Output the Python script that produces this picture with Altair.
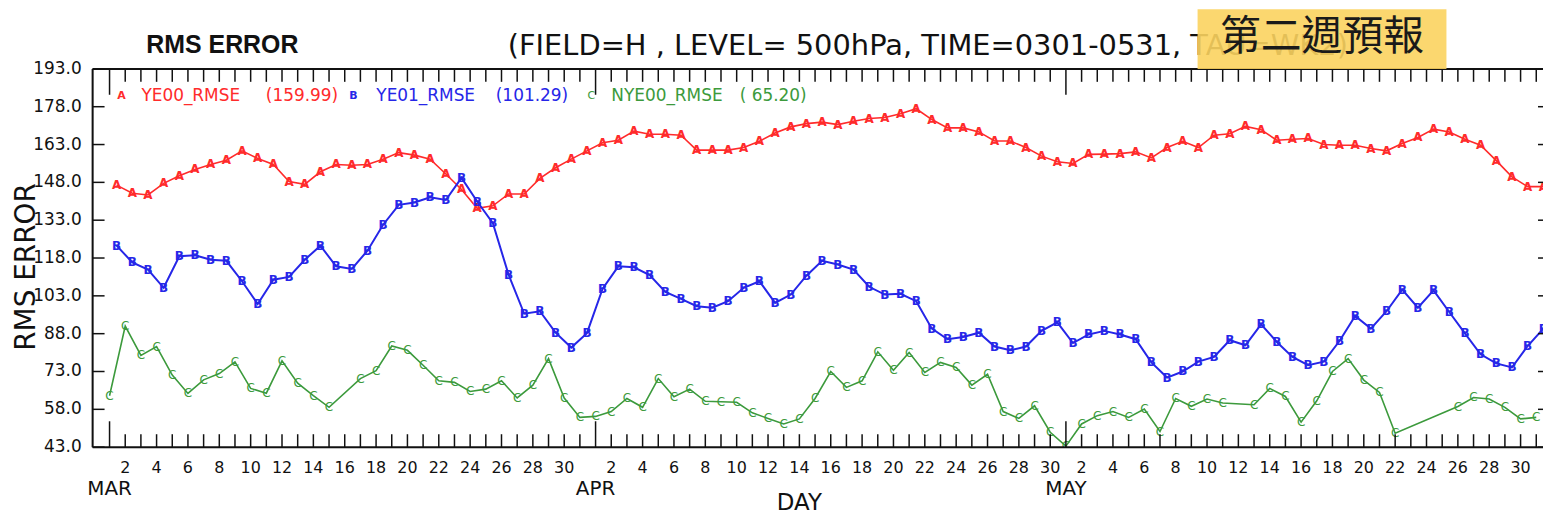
import altair as alt
import pandas as pd

# ---------------- data ----------------
# day index: 0 = 1 MAR ... 30 = 31 MAR, 31 = 1 APR ... 60 = 30 APR, 61 = 1 MAY ... 91 = 31 MAY
day_index = list(range(92))

ye00_rmse = [
    146.9, 143.7, 143.0, 147.6, 150.6, 153.1, 155.1, 156.8, 160.5, 157.5, 155.1,
    148.3, 147.2, 152.2, 155.1, 154.8, 155.1, 157.2, 159.8, 158.8, 157.2, 151.3,
    145.2, 137.7, 138.7, 143.4, 143.4, 149.6, 153.8, 157.2, 160.5,
    163.7, 164.7, 168.3, 167.1, 167.1, 166.7, 160.8, 160.8, 160.8, 161.8, 164.3,
    167.6, 170.0, 171.3, 171.9, 170.9, 172.2, 173.3, 173.7, 175.2, 177.2, 172.9,
    169.6, 169.6, 168.0, 164.4, 164.4, 161.8, 158.4, 156.2,
    155.5, 159.1, 159.2, 159.4, 160.1, 157.7, 161.8, 164.3, 161.8, 166.7, 167.3,
    170.2, 168.9, 164.7, 165.1, 165.4, 163.0, 162.7, 162.7, 161.4, 160.5, 163.4,
    165.8, 169.1, 168.0, 165.1, 162.7, 156.6, 150.2, 146.3, 146.3,
]

ye01_rmse = [
    122.9, 116.3, 113.4, 106.2, 118.7, 119.1, 117.3, 116.9, 108.8, 99.8, 109.4,
    110.5, 117.3, 122.9, 114.7, 113.7, 120.9, 131.2, 139.1, 140.0, 142.1, 141.0,
    149.8, 140.4, 131.8, 111.4, 95.9, 96.9, 88.4, 82.5, 88.2,
    105.8, 114.7, 114.3, 111.2, 104.6, 101.8, 98.9, 98.3, 100.9, 106.2, 108.8,
    100.2, 103.5, 111.0, 116.9, 115.4, 113.4, 106.6, 103.5, 103.8, 100.9, 90.0,
    85.8, 86.7, 88.4, 82.9, 81.4, 82.9, 89.1, 92.5,
    84.3, 87.7, 89.1, 87.7, 85.8, 76.6, 70.6, 73.0, 76.9, 78.8, 85.4,
    83.4, 91.7, 84.7, 78.8, 75.5, 76.9, 85.1, 95.0, 90.0, 96.9, 105.5,
    98.3, 105.2, 96.6, 88.1, 79.8, 76.2, 74.6, 83.1, 90.0,
]

# None = no value that day (the line joins straight across)
nye00_rmse = [
    63.4, 91.0, 79.4, 82.9, 71.6, 64.3, 69.7, 72.2, 76.8, 66.3, 64.4,
    77.2, 68.4, 63.4, 58.8, None, 70.2, 73.3, 83.1, 81.4, 75.5, 69.3,
    68.7, 65.1, 66.0, 69.3, 62.5, 67.6, 78.1, 62.5, 54.8,
    55.2, 57.1, 62.3, 58.8, 70.2, 63.0, 66.0, 61.2, 61.0, 60.8, 56.6,
    54.4, 52.2, 54.2, 62.3, 73.0, 66.7, 69.3, 80.8, 73.5, 80.5, 72.6,
    76.6, 74.6, 67.6, 71.9, 57.1, 54.4, 59.4, 48.9,
    43.4, 52.2, 55.5, 57.1, 54.8, 58.1, 49.2, 62.3, 59.2, 62.1, 60.5,
    None, 59.8, 66.3, 63.1, 52.9, 61.4, 73.0, 78.1, 69.6, 64.7, 48.5,
    None, None, None, 59.1, 62.7, 62.1, 58.8, 54.2, 54.8,
]

series_names = ["YE00_RMSE", "YE01_RMSE", "NYE00_RMSE"]
series_means = ["(159.99)", "(101.29)", "( 65.20)"]
series_marks = ["A", "B", "C"]

y_tick_values = [43.0, 58.0, 73.0, 88.0, 103.0, 118.0, 133.0, 148.0, 163.0, 178.0, 193.0]
y_tick_labels = ["43.0", "58.0", "73.0", "88.0", "103.0", "118.0", "133.0", "148.0",
                 "163.0", "178.0", "193.0"]
month_names = ["MAR", "APR", "MAY"]
month_first_index = [0, 31, 61]
month_lengths = [31, 30, 31]

title_text = "RMS ERROR"
subtitle_text = "(FIELD=H , LEVEL= 500hPa, TIME=0301-0531, TAU=WK2)"
badge_text = "第二週預報"
x_title = "DAY"
y_title = "RMS ERROR"

# ---------------- styling / layout ----------------
W, H = 1457, 380
colors = ["#ff2b2b", "#2626e8", "#3c9a3c"]
widths = [1.6, 2.0, 1.6]
mark_weights = ["bold", "bold", "normal"]
x_shift = [0.45, 0.45, 0.0]          # red/blue plotted half a day to the right
FONT = "DejaVu Sans"
INK = "#111111"

xs = alt.Scale(domain=[-1.08, 91.43], nice=False, zero=False)
ys = alt.Scale(domain=[43, 193], nice=False, zero=False)

layers = []
all_series = [ye00_rmse, ye01_rmse, nye00_rmse]
for i, vals in enumerate(all_series):
    rows = [{"x": d + x_shift[i], "v": v, "mk": series_marks[i]}
            for d, v in zip(day_index, vals) if v is not None]
    sdf = pd.DataFrame(rows)
    line = alt.Chart(sdf).mark_line(clip=True, color=colors[i], strokeWidth=widths[i]).encode(
        x=alt.X("x:Q", scale=xs, axis=None),
        y=alt.Y("v:Q", scale=ys, axis=None),
    )
    marks = alt.Chart(sdf).mark_text(clip=True, color=colors[i], font=FONT, fontSize=12,
                                     fontWeight=mark_weights[i], baseline="middle").encode(
        x=alt.X("x:Q", scale=xs, axis=None),
        y=alt.Y("v:Q", scale=ys, axis=None),
        text="mk:N",
    )
    layers += [line, marks]

# frame (left, bottom, top)
one = pd.DataFrame({"a": [0]})
layers.append(alt.Chart(one).mark_rule(color=INK, strokeWidth=2).encode(
    x=alt.value(0), x2=alt.value(W), y=alt.value(0)))
layers.append(alt.Chart(one).mark_rule(color=INK, strokeWidth=2).encode(
    x=alt.value(0), x2=alt.value(W), y=alt.value(H)))
layers.append(alt.Chart(one).mark_rule(color=INK, strokeWidth=2).encode(
    x=alt.value(0), y=alt.value(0), y2=alt.value(H)))

# day ticks (inward, every day; longer at month starts)
tick_df = pd.DataFrame({"x": day_index,
                        "major": [d in month_first_index for d in day_index]})
minor_df = tick_df[~tick_df["major"]]
major_df = tick_df[tick_df["major"]]
for tdf, ln in [(minor_df, 13), (major_df, 26)]:
    layers.append(alt.Chart(tdf).mark_rule(color=INK, strokeWidth=1.5).encode(
        x=alt.X("x:Q", scale=xs, axis=None), y=alt.value(H), y2=alt.value(H - ln)))
    layers.append(alt.Chart(tdf).mark_rule(color=INK, strokeWidth=1.5).encode(
        x=alt.X("x:Q", scale=xs, axis=None), y=alt.value(0), y2=alt.value(ln)))

# value ticks (inward, left and right) and labels
ytick_df = pd.DataFrame({"v": y_tick_values, "lab": y_tick_labels})
layers.append(alt.Chart(ytick_df).mark_rule(color=INK, strokeWidth=1.5).encode(
    y=alt.Y("v:Q", scale=ys, axis=None), x=alt.value(0), x2=alt.value(12)))
layers.append(alt.Chart(ytick_df).mark_rule(color=INK, strokeWidth=1.5).encode(
    y=alt.Y("v:Q", scale=ys, axis=None), x=alt.value(W - 5), x2=alt.value(W)))
layers.append(alt.Chart(ytick_df).mark_text(font=FONT, fontSize=17, color=INK, align="right",
                                            baseline="middle").encode(
    y=alt.Y("v:Q", scale=ys, axis=None), x=alt.value(-11), text="lab:N"))

# day-of-month labels (even days) and month names
xl_rows = []
for first, length in zip(month_first_index, month_lengths):
    for dom in range(2, length + 1, 2):
        xl_rows.append({"x": first + dom - 1, "lab": str(dom)})
xl_df = pd.DataFrame(xl_rows)
layers.append(alt.Chart(xl_df).mark_text(font=FONT, fontSize=16, color=INK, baseline="middle").encode(
    x=alt.X("x:Q", scale=xs, axis=None), y=alt.value(H + 21), text="lab:N"))
month_df = pd.DataFrame({"x": month_first_index, "m": month_names})
layers.append(alt.Chart(month_df).mark_text(font=FONT, fontSize=20, color=INK, baseline="middle").encode(
    x=alt.X("x:Q", scale=xs, axis=None), y=alt.value(H + 42), text="m:N"))


def label(text, x, y, size, color=INK, weight="normal", font=FONT, align="left", angle=0):
    return alt.Chart(pd.DataFrame({"t": [text]})).mark_text(
        font=font, fontSize=size, fontWeight=weight, color=color, align=align,
        baseline="middle", angle=angle).encode(x=alt.value(x), y=alt.value(y), text="t:N")


# axis titles
layers.append(label(x_title, 710, H + 56, 23, align="center"))
layers.append(label(y_title, -66, 199, 28, align="center", angle=270))

# in-plot legend
legend_marker_x = [29, 262, 501]
legend_name_x = [49, 285, 521]
legend_mean_x = [174, 405, 650]
for i in range(3):
    layers.append(label(series_marks[i], legend_marker_x[i], 27, 11, colors[i],
                        weight=mark_weights[i], align="center"))
    layers.append(label(series_names[i], legend_name_x[i], 27, 17, colors[i]))
    layers.append(label(series_means[i], legend_mean_x[i], 27, 17, colors[i]))

# titles above the plot
layers.append(label(title_text, 54, -24, 25, INK, weight="bold", font="Liberation Sans"))
layers.append(label(subtitle_text, 417, -23, 29, INK))

# yellow badge over the end of the subtitle
layers.append(alt.Chart(one).mark_rect(color="#fbd35f", opacity=0.9).encode(
    x=alt.value(1110), x2=alt.value(1360), y=alt.value(-60), y2=alt.value(0)))
layers.append(label(badge_text, 1235, -31, 41, "#1a1a1a", font="Noto Sans CJK TC", align="center"))

chart = alt.layer(*layers).properties(
    width=W, height=H,
    padding={"left": 85, "top": 60, "right": 0, "bottom": 69},
    autosize=alt.AutoSizeParams(type="none"),
).configure_view(stroke=None).configure(background="white")

chart.save("out.html", embed_options={"renderer": "svg", "actions": False})
